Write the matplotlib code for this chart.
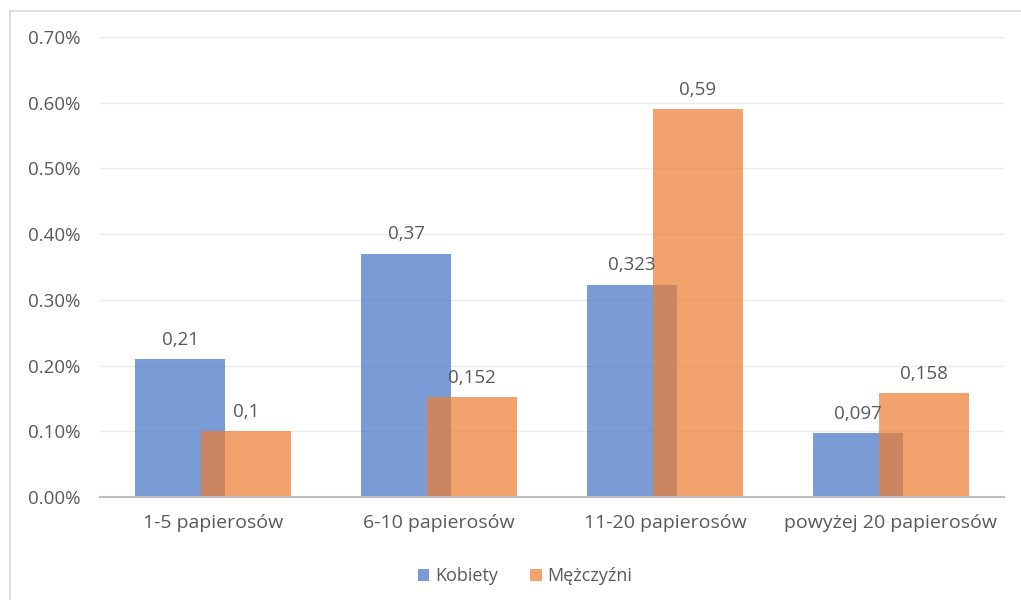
import matplotlib.pyplot as plt
from matplotlib.lines import Line2D
from matplotlib.ticker import FuncFormatter
import numpy as np

categories = ["1-5 papierosów", "6-10 papierosów", "11-20 papierosów", "powyżej 20 papierosów"]
kobiety = [0.21, 0.37, 0.323, 0.097]
mezczyzni = [0.1, 0.152, 0.59, 0.158]
series_names = ["Kobiety", "Mężczyźni"]

plt.rcParams['font.family'] = ['Open Sans', 'DejaVu Sans']
text_color = "#595959"
blue = "#4472C4"
orange = "#ED7D31"
fs = 13.5

W, H = 1021, 600
fig = plt.figure(figsize=(W / 100, H / 100), dpi=100)
ax = fig.add_axes([100 / W, 103 / H, 904 / W, 460 / H])

x = np.arange(len(categories))
width = 0.394
offset = 0.146
b1 = ax.bar(x - offset, kobiety, width, color=blue, alpha=0.71, label=series_names[0], zorder=2)
b2 = ax.bar(x + offset, mezczyzni, width, color=orange, alpha=0.71, label=series_names[1], zorder=3)

for bars, vals in ((b1, kobiety), (b2, mezczyzni)):
    for rect, v in zip(bars, vals):
        ax.annotate(str(v).replace('.', ','),
                    (rect.get_x() + rect.get_width() / 2, v),
                    xytext=(0, 7.5), textcoords='offset points',
                    ha='center', va='bottom', fontsize=fs, color=text_color, zorder=4)

ax.set_xlim(-0.5, len(categories) - 0.5)
ax.set_ylim(0, 0.7)
ax.set_yticks(np.arange(0, 0.71, 0.1))
ax.yaxis.set_major_formatter(FuncFormatter(lambda v, p: f"{v:.2f}%"))
ax.set_xticks(x)
ax.set_xticklabels(categories, fontsize=14)
ax.tick_params(axis='both', length=0, labelcolor=text_color)
ax.tick_params(axis='y', labelsize=fs, pad=14)
ax.tick_params(axis='x', pad=12)
ax.grid(axis='y', color='#EBEBEB', linewidth=1, zorder=0)
ax.set_axisbelow(True)
for s in ('top', 'right', 'left'):
    ax.spines[s].set_visible(False)
ax.spines['bottom'].set_color('#BFBFBF')
ax.spines['bottom'].set_linewidth(1.5)
ax.spines['bottom'].set_zorder(5)

leg = fig.legend(handles=[b1, b2], labels=series_names, loc='center',
                 bbox_to_anchor=(525 / W, 1 - 576 / H), ncol=2, frameon=False,
                 fontsize=13, handlelength=0.65, handleheight=0.65,
                 handletextpad=0.3, columnspacing=1.8)
for t in leg.get_texts():
    t.set_color(text_color)

# chart area border
fig.add_artist(Line2D([10 / W, 1.0], [1 - 11 / H, 1 - 11 / H], color='#D9D9D9', linewidth=1.2))
fig.add_artist(Line2D([10 / W, 10 / W], [0, 1 - 11 / H], color='#D9D9D9', linewidth=1.2))

fig.savefig("out.png", dpi=100)
